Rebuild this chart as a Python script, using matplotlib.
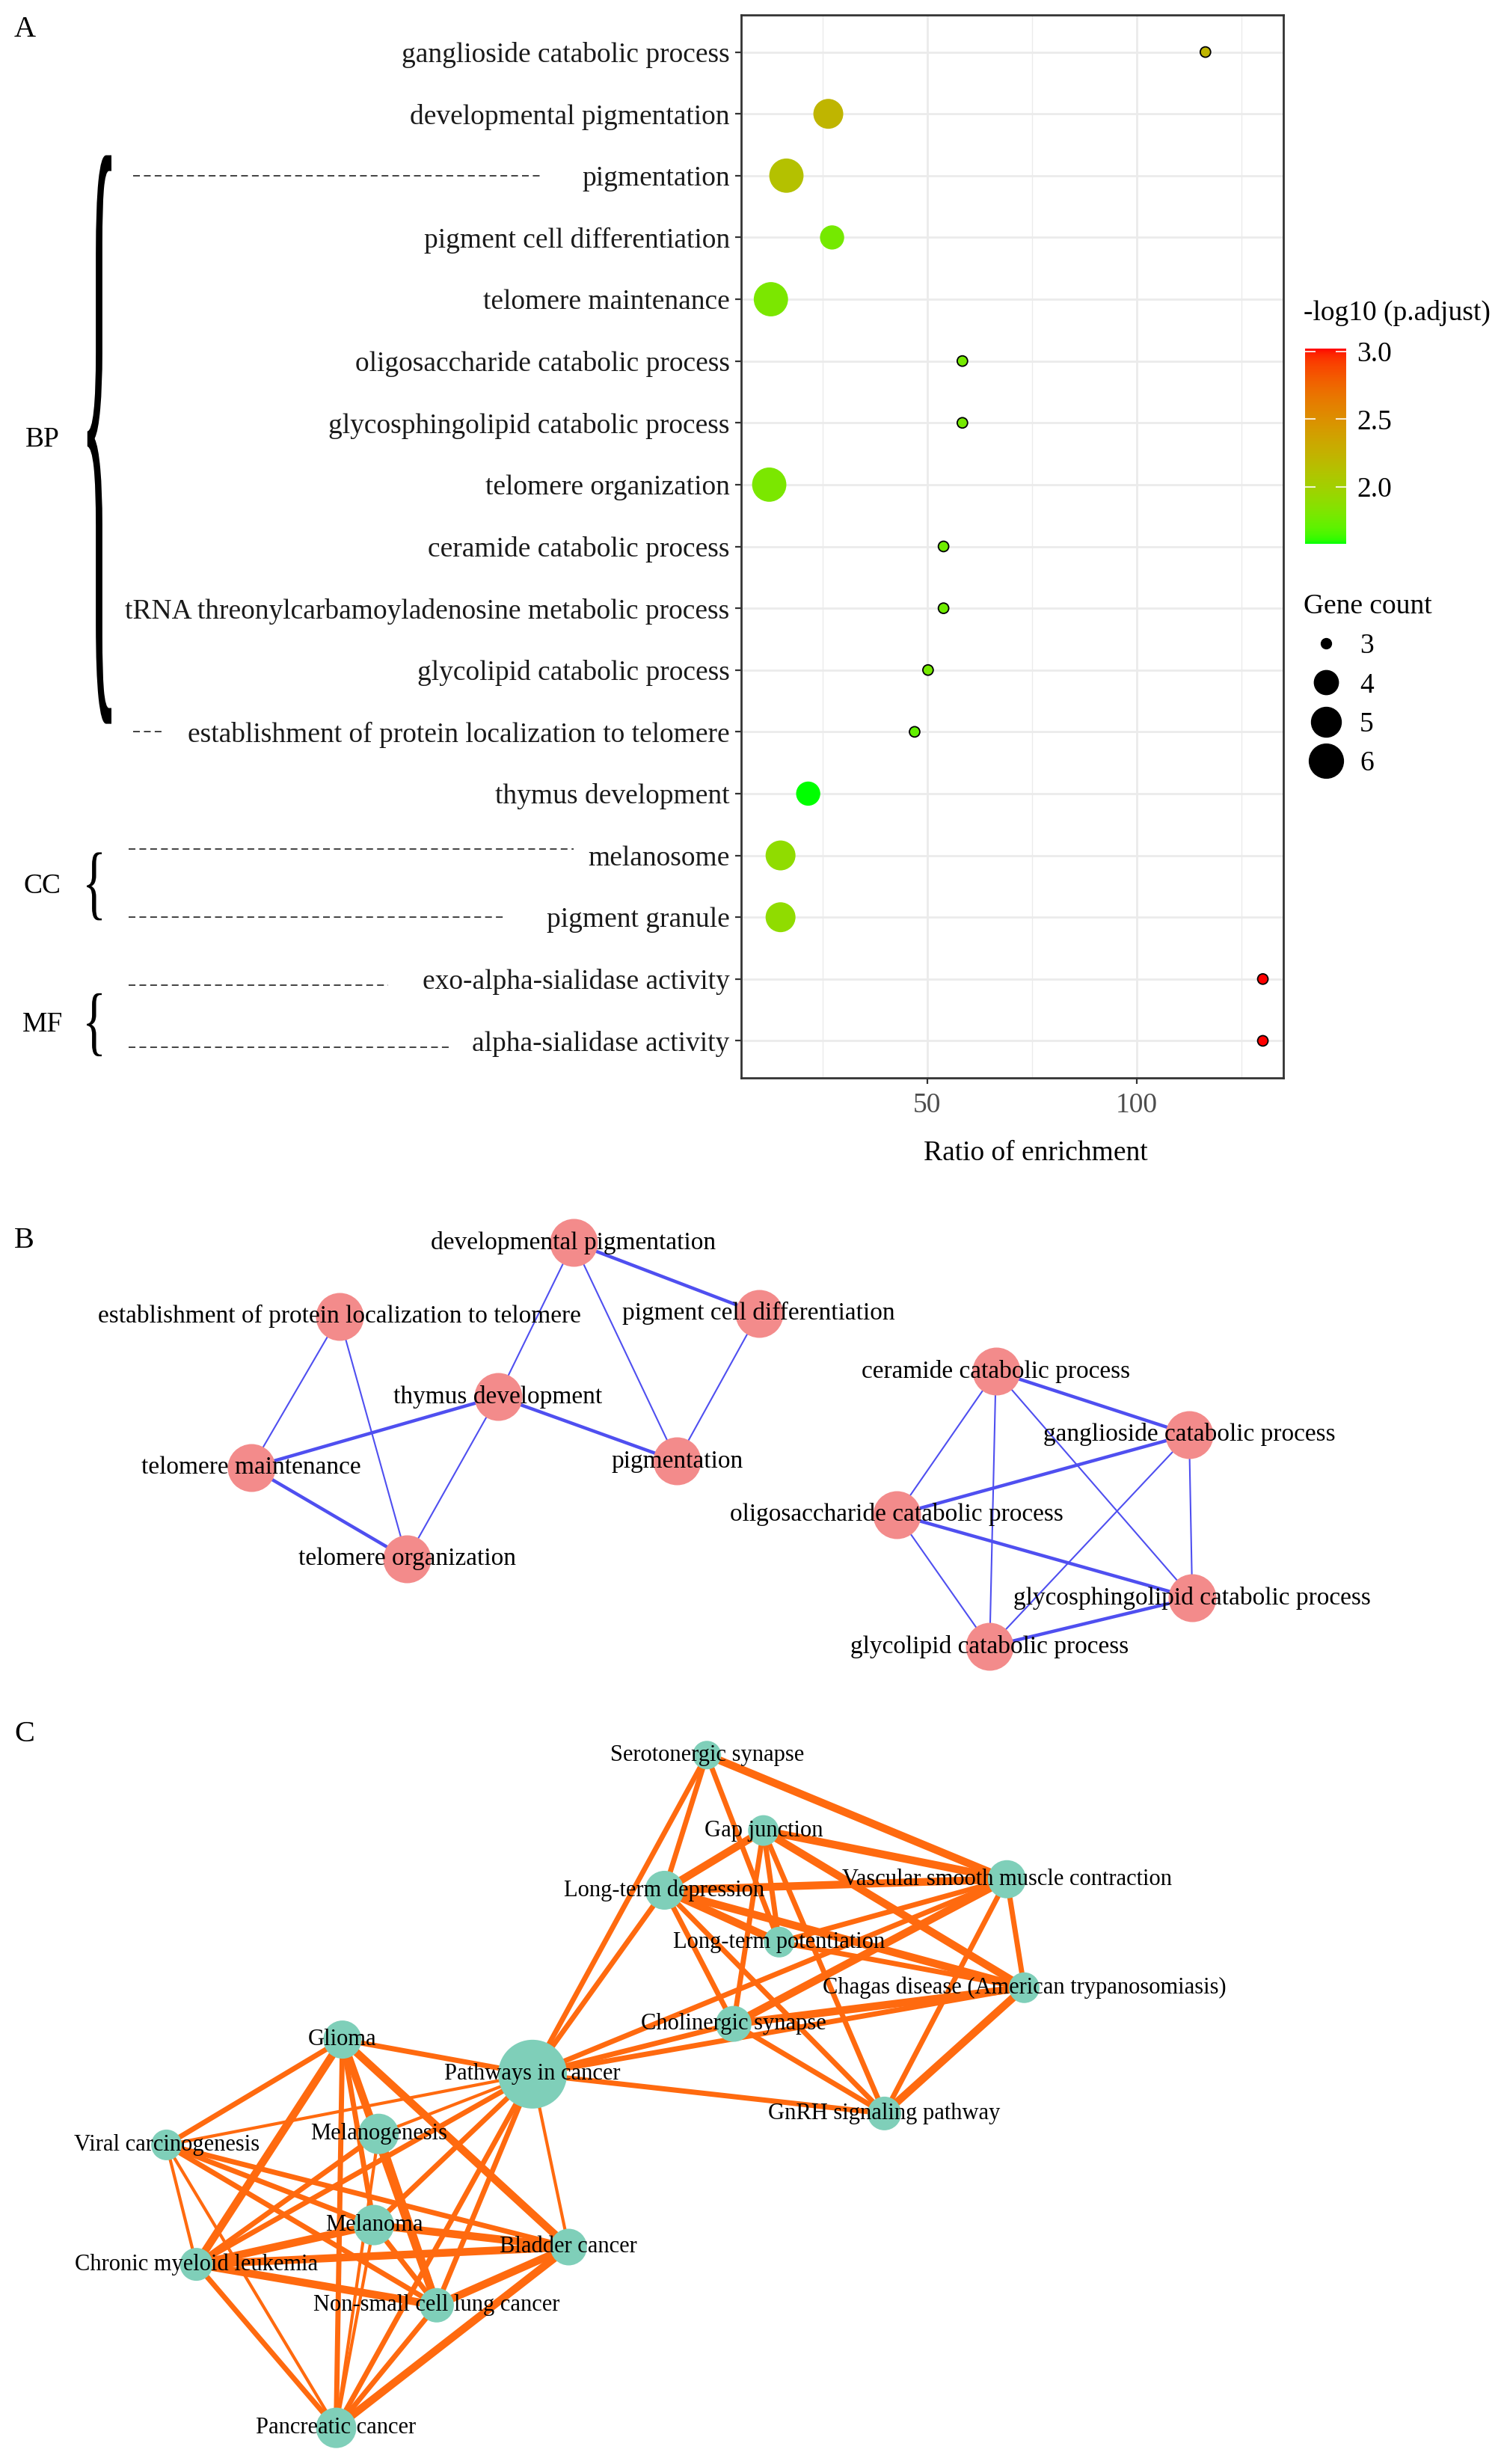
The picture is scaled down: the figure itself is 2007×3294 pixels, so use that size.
import numpy as np
import matplotlib
matplotlib.use("Agg")
import matplotlib.pyplot as plt
import matplotlib.transforms as mtransforms
from matplotlib.colors import LinearSegmentedColormap
from matplotlib.collections import LineCollection
from matplotlib.lines import Line2D
from matplotlib.path import Path
from matplotlib.textpath import TextPath
from matplotlib.patches import PathPatch
from matplotlib.font_manager import FontProperties

plt.rcParams["font.family"] = "Liberation Serif"

# ---------------- panel A : GO enrichment dot plot ----------------
terms = ["ganglioside catabolic process", "developmental pigmentation", "pigmentation",
         "pigment cell differentiation", "telomere maintenance", "oligosaccharide catabolic process",
         "glycosphingolipid catabolic process", "telomere organization", "ceramide catabolic process",
         "tRNA threonylcarbamoyladenosine metabolic process", "glycolipid catabolic process",
         "establishment of protein localization to telomere", "thymus development",
         "melanosome", "pigment granule", "exo-alpha-sialidase activity", "alpha-sialidase activity"]
ratio = [116.4, 26.4, 16.4, 27.3, 12.7, 58.4, 58.4, 12.3, 53.9, 53.9, 50.2, 47.0, 21.6, 15.0, 15.0, 130.1, 130.1]
gene_count = [3, 5, 6, 4, 6, 3, 3, 6, 3, 3, 3, 3, 4, 5, 5, 3, 3]
neg_log_padj = [2.22, 2.22, 2.12, 1.78, 1.80, 1.78, 1.78, 1.80, 1.76, 1.76, 1.78, 1.72, 1.58, 1.90, 1.90, 3.02, 3.02]

# ---------------- panel B : GO term network ----------------
b_nodes = ["developmental pigmentation", "pigment cell differentiation",
           "establishment of protein localization to telomere", "thymus development",
           "telomere maintenance", "pigmentation", "telomere organization",
           "ceramide catabolic process", "ganglioside catabolic process",
           "oligosaccharide catabolic process", "glycosphingolipid catabolic process",
           "glycolipid catabolic process"]
b_x = [365, 483, 216, 317, 160, 431, 259, 634, 757, 571, 759, 630]
b_y = [791, 836, 838, 889, 934, 930, 992, 873, 913, 964, 1017, 1048]
b_edges = [(0, 1, 2), (0, 3, 1), (0, 5, 1), (1, 5, 1), (2, 4, 1), (2, 6, 1), (3, 4, 2),
           (3, 5, 2), (3, 6, 1), (4, 6, 2),
           (7, 8, 2), (7, 9, 1), (7, 11, 1), (7, 10, 1), (8, 9, 2), (8, 11, 1), (8, 10, 1),
           (9, 10, 2), (9, 11, 1), (10, 11, 2)]

# ---------------- panel C : KEGG pathway network ----------------
c_nodes = ["Serotonergic synapse", "Gap junction", "Long-term depression",
           "Vascular smooth muscle contraction", "Long-term potentiation",
           "Chagas disease (American trypanosomiasis)", "Cholinergic synapse",
           "Pathways in cancer", "GnRH signaling pathway", "Glioma", "Viral carcinogenesis",
           "Melanogenesis", "Melanoma", "Bladder cancer", "Chronic myeloid leukemia",
           "Non-small cell lung cancer", "Pancreatic cancer"]
c_x = [450, 486, 423, 641, 496, 652, 467, 339, 563, 218, 106, 241, 238, 362, 125, 278, 214]
c_y = [1117, 1165, 1203, 1196, 1236, 1265, 1288, 1320, 1345, 1298, 1365, 1358, 1416, 1430, 1441, 1467, 1545]
c_size = [38, 41, 52, 51, 41, 41, 48, 92, 45, 51, 41, 54, 54, 49, 44, 46, 54]
c_edges = [(0, 3, 3), (0, 2, 2), (0, 4, 2), (0, 7, 2),
           (1, 3, 3), (1, 2, 3), (1, 4, 2), (1, 6, 2), (1, 5, 3), (1, 8, 2),
           (2, 3, 3), (2, 4, 3), (2, 5, 3), (2, 6, 2), (2, 8, 2), (2, 7, 2),
           (3, 6, 3), (3, 7, 2), (3, 5, 2), (3, 8, 2), (3, 4, 2),
           (5, 6, 3), (5, 8, 3), (5, 4, 2), (5, 7, 2),
           (6, 8, 2), (6, 7, 2), (7, 8, 2),
           (9, 7, 2), (9, 10, 2), (9, 14, 3), (9, 11, 1), (9, 12, 2), (9, 15, 3), (9, 13, 3), (9, 16, 2),
           (10, 7, 1), (10, 12, 2), (10, 13, 2), (10, 15, 2), (10, 14, 1), (10, 16, 1),
           (11, 7, 1), (11, 14, 2), (11, 15, 3), (11, 16, 1),
           (12, 14, 3), (12, 13, 3), (12, 15, 2), (12, 16, 1), (12, 7, 2),
           (13, 14, 3), (13, 15, 3), (13, 16, 3), (13, 7, 1),
           (14, 15, 3), (14, 16, 2), (14, 7, 2),
           (15, 16, 2), (15, 7, 2), (16, 7, 2)]


# ggplot-like green -> red ramp, interpolated in CIELAB
M = np.array([[0.4124, 0.3576, 0.1805], [0.2126, 0.7152, 0.0722], [0.0193, 0.1192, 0.9505]])
WHITE = np.array([0.95047, 1.0, 1.08883])


def to_lab(rgb):
    rgb = np.asarray(rgb, float)
    lin = np.where(rgb <= 0.04045, rgb / 12.92, ((rgb + 0.055) / 1.055) ** 2.4)
    xyz = M @ lin / WHITE
    f = np.where(xyz > 0.008856, np.cbrt(xyz), 7.787 * xyz + 16 / 116)
    return np.array([116 * f[1] - 16, 500 * (f[0] - f[1]), 200 * (f[1] - f[2])])


def from_lab(lab):
    fy = (lab[0] + 16) / 116
    f = np.array([fy + lab[1] / 500, fy, fy - lab[2] / 200])
    xyz = np.where(f ** 3 > 0.008856, f ** 3, (f - 16 / 116) / 7.787) * WHITE
    lin = np.clip(np.linalg.inv(M) @ xyz, 0, 1)
    return np.clip(np.where(lin <= 0.0031308, 12.92 * lin, 1.055 * lin ** (1 / 2.4) - 0.055), 0, 1)


lo, hi = to_lab([0, 1, 0]), to_lab([1, 0, 0])
ramp = [from_lab(lo + t * (hi - lo)) for t in np.linspace(0, 1, 256)]
cmap = LinearSegmentedColormap.from_list("green_red", ramp)

W, H = 2008, 3294
fig = plt.figure(figsize=(W / 100, H / 100), dpi=100)

# overlay in figure pixels for letters, braces, dashes
ov = fig.add_axes([0, 0, 1, 1])
ov.set_xlim(0, W)
ov.set_ylim(H, 0)
ov.axis("off")

axA = fig.add_axes([991 / W, 1 - 1441 / H, 725 / W, 1421 / H])
n = len(terms)
ypos = np.arange(n)[::-1]


def diam(c):
    return 10 + 23 * np.sqrt((np.asarray(c) - 3) / 3.0)


sizes = diam(gene_count) ** 2
edge = [(0, 0, 0, 1) if c == 3 else (0, 0, 0, 0) for c in gene_count]
sc = axA.scatter(ratio, ypos, s=sizes, c=neg_log_padj, cmap=cmap, vmin=1.58, vmax=3.02,
                 edgecolors=edge, linewidths=1.3, zorder=3)
axA.set_xlim(5.6, 135.0)
axA.set_ylim(-0.6, n - 0.4)
axA.set_yticks(ypos)
axA.set_yticklabels(terms, fontsize=27, color="#1a1a1a")
axA.set_xticks([50, 100])
axA.set_xticks([25, 75, 125], minor=True)
axA.tick_params(axis="both", which="major", length=6, width=1.6, color="#333333", pad=5)
axA.tick_params(axis="x", which="major", labelsize=27, labelcolor="#4d4d4d", pad=8)
axA.tick_params(axis="x", which="minor", length=0)
axA.grid(which="major", color="#ebebeb", lw=2.0, zorder=0)
axA.grid(which="minor", axis="x", color="#ebebeb", lw=1.0, zorder=0)
axA.set_axisbelow(True)
for s in axA.spines.values():
    s.set_color("#333333")
    s.set_linewidth(2.0)
axA.set_xlabel("Ratio of enrichment", fontsize=27)
axA.xaxis.set_label_coords(0.543, -0.059)

# colour bar
cax = fig.add_axes([1745 / W, 1 - 727 / H, 55 / W, 261 / H])
cb = fig.colorbar(sc, cax=cax, ticks=[2.0, 2.5, 3.0])
cb.outline.set_visible(False)
cb.ax.set_yticklabels(["2.0", "2.5", "3.0"], fontsize=27)
cb.ax.tick_params(direction="in", color="white", length=10, width=1.2, left=True, right=True, pad=10)
fig.text(1743 / W, 1 - 418 / H, "-log10 (p.adjust)", fontsize=27, va="center", ha="left")

# size legend
handles = [Line2D([], [], marker="o", ls="", color="black", markersize=diam(c)) for c in [3, 4, 5, 6]]
leg = fig.legend(handles, ["3", "4", "5", "6"], title="Gene count", loc="upper left",
                 bbox_to_anchor=(1743 / W, 1 - 794 / H), frameon=False, fontsize=27,
                 title_fontsize=27, labelspacing=0.48, handlelength=1.6, handletextpad=0.4,
                 borderpad=0, borderaxespad=0, alignment="left")

# ontology group braces and dashed leaders
blend = mtransforms.blended_transform_factory(ov.transData, axA.transData)
brace = TextPath((0, 0), "{", size=1, prop=FontProperties(family="Liberation Serif"))
bv = brace.vertices
bx0, by0 = bv.min(axis=0)
bx1, by1 = bv.max(axis=0)


def draw_brace(x0, x1, ylo, yhi):
    v = np.column_stack([x0 + (bv[:, 0] - bx0) / (bx1 - bx0) * (x1 - x0),
                         ylo + (bv[:, 1] - by0) / (by1 - by0) * (yhi - ylo)])
    ov.add_patch(PathPatch(Path(v, brace.codes), transform=blend, color="black", lw=0))


groups = [("BP", 107, 149, 5.13, 14.33), ("CC", 110, 136, 1.95, 3.05), ("MF", 110, 136, -0.25, 0.77)]
for name, x0, x1, ylo, yhi in groups:
    draw_brace(x0, x1, ylo, yhi)
    ov.text(57, (ylo + yhi) / 2, name, transform=blend, fontsize=27, ha="center", va="center")

dashes = [(178, 725, 14), (178, 216, 5), (172, 767, 3.1), (172, 676, 2.0), (172, 519, 0.9), (172, 605, -0.1)]
for x0, x1, yy in dashes:
    ov.plot([x0, x1], [yy, yy], transform=blend, color="#333333", lw=1.3, dashes=(5, 3))

for letter, yy in [("A", 21), ("B", 1640), ("C", 2300)]:
    ov.text(19, yy, letter, fontsize=29, ha="left", va="top")

# ---------------- networks B and C ----------------
axN = fig.add_axes([0, 0, 1, 1 - 1560 / H])
axN.set_xlim(0, 956)
axN.set_ylim(1568, 1560 / 2.1)
axN.axis("off")


def draw_network(xs, ys, edges, widths, ecolor):
    segs = [[(xs[a], ys[a]), (xs[b], ys[b])] for a, b, w in edges]
    lws = [widths[w] for a, b, w in edges]
    axN.add_collection(LineCollection(segs, colors=ecolor, linewidths=lws, zorder=1,
                                      capstyle="round"))


draw_network(b_x, b_y, b_edges, {1: 1.5, 2: 3.2}, "#4f4ff0")
axN.scatter(b_x, b_y, s=(64 * 0.72) ** 2, color="#f38b8b", lw=0, zorder=2)
for name, x, y in zip(b_nodes, b_x, b_y):
    axN.text(x, y, name, fontsize=24, ha="center", va="center", zorder=3)

draw_network(c_x, c_y, c_edges, {1: 3.0, 2: 5.0, 3: 7.5}, "#ff6a0f")
axN.scatter(c_x, c_y, s=(np.array(c_size) * 0.72) ** 2, color="#7fcfb9", lw=0, zorder=2)
for name, x, y in zip(c_nodes, c_x, c_y):
    axN.text(x, y, name, fontsize=22, ha="center", va="center", zorder=3)

fig.savefig("out.png", dpi=100)
